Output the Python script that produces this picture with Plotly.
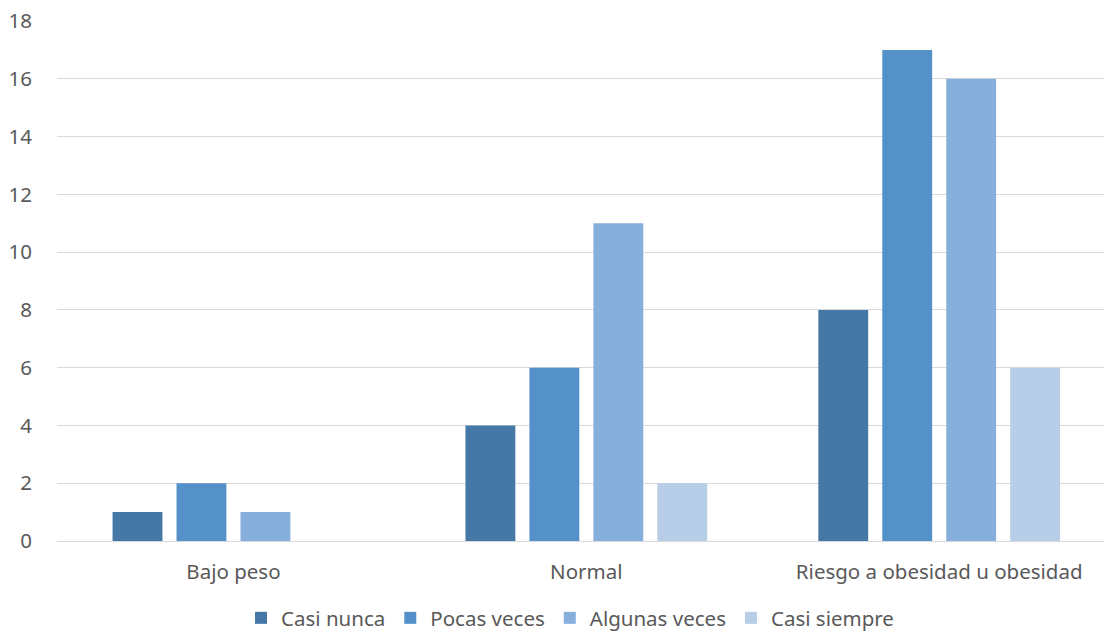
import plotly.graph_objects as go

categories = ["Bajo peso", "Normal", "Riesgo a obesidad u obesidad"]
series_names = ["Casi nunca", "Pocas veces", "Algunas veces", "Casi siempre"]
casi_nunca = [1, 4, 8]
pocas_veces = [2, 6, 17]
algunas_veces = [1, 11, 16]
casi_siempre = [0, 2, 6]
y_ticks = [0, 2, 4, 6, 8, 10, 12, 14, 16, 18]

colors = ["#4678A7", "#5491C8", "#86AFDC", "#B8CDE7"]
values = [casi_nunca, pocas_veces, algunas_veces, casi_siempre]

font_family = "Noto Sans"
text_color = "#595959"
font_size = 20.5

fig = go.Figure()
for name, vals, col in zip(series_names, values, colors):
    fig.add_trace(go.Bar(
        x=list(range(len(categories))),
        y=vals,
        name=name,
        marker=dict(color=col, line=dict(width=0)),
    ))

fig.update_layout(
    width=1104,
    height=634,
    margin=dict(l=57, r=0, t=21, b=93, autoexpand=False),
    paper_bgcolor="white",
    plot_bgcolor="white",
    barmode="group",
    bargap=0.275,
    bargroupgap=0.22,
    font=dict(family=font_family, size=font_size, color=text_color),
    showlegend=True,
    legend=dict(
        orientation="h",
        x=0.49,
        xanchor="center",
        yref="container",
        y=(634 - 618) / 634,
        yanchor="middle",
        font=dict(size=font_size, color=text_color),
        itemwidth=30,
        traceorder="normal",
    ),
)

fig.update_xaxes(
    tickmode="array",
    tickvals=list(range(len(categories))),
    ticktext=categories,
    range=[-0.5, 2.467],
    showgrid=False,
    showline=False,
    zeroline=False,
    ticks="outside",
    ticklen=12,
    tickcolor="rgba(0,0,0,0)",
    tickfont=dict(size=font_size, color=text_color),
)

fig.update_yaxes(
    range=[0, 18],
    tickmode="array",
    tickvals=y_ticks,
    ticktext=[str(v) for v in y_ticks],
    showgrid=True,
    gridcolor="#D9D9D9",
    gridwidth=1,
    zeroline=True,
    zerolinecolor="#D9D9D9",
    zerolinewidth=1,
    showline=False,
    ticks="outside",
    ticklen=20,
    tickcolor="rgba(0,0,0,0)",
    tickfont=dict(size=font_size, color=text_color),
)

fig.write_html("out.html")
